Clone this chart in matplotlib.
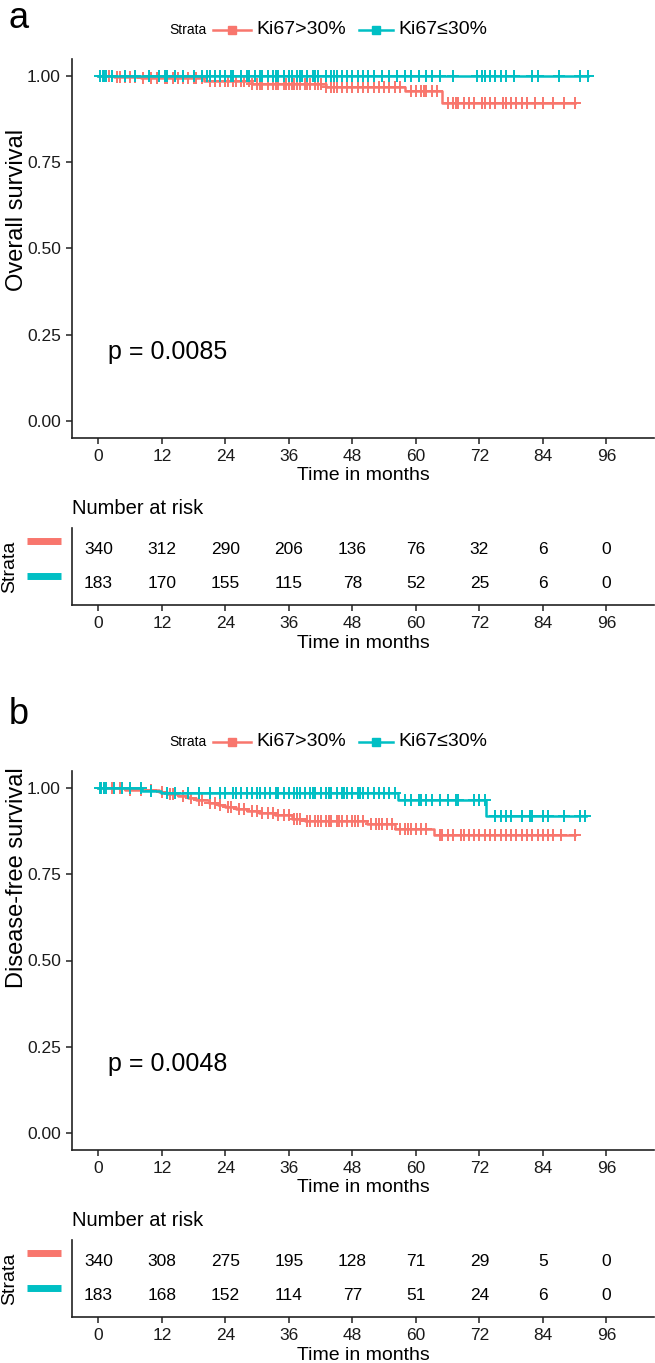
import numpy as np
import matplotlib
matplotlib.use('Agg')
import matplotlib.pyplot as plt
from matplotlib.lines import Line2D
import matplotlib.transforms as mtransforms

plt.rcParams['font.family'] = ['Liberation Sans', 'DejaVu Sans']

RED = '#F8766D'
TEAL = '#00BFC4'
W, H = 655, 1363

groups = ['Ki67>30%', 'Ki67\u226430%']
risk_times = [0, 12, 24, 36, 48, 60, 72, 84, 96]

# --- a: overall survival ---
os_hi_t = [0, 3, 8, 20, 29, 43, 58, 65]
os_hi_s = [1.0, 0.997, 0.994, 0.986, 0.977, 0.968, 0.958, 0.922]
os_hi_end = 90
os_hi_cens = [2, 3.5, 4, 5, 6, 7, 8.5, 10, 11, 12.5, 13, 14, 15, 16, 17, 18, 18.5, 19.5, 21,
              22, 23, 24, 24.5, 25.5, 26, 27, 27.5, 28.5, 29, 30, 30.5, 31, 32, 33, 33.5, 34,
              35, 35.5, 36, 36.5, 37, 37.5, 38, 39, 39.5, 40, 41, 41.5, 42, 43, 44, 44.5, 45,
              46, 47, 48, 49, 50, 51, 52, 53, 54, 55, 56, 57, 59, 60, 61, 61.5, 62, 63, 64,
              66, 67, 67.5, 68, 69, 70, 71, 72.5, 73, 74, 75, 76.5, 77, 78, 79, 80, 81, 82.5,
              84, 86, 88, 90]
os_lo_t = [0]
os_lo_s = [1.0]
os_lo_end = 92.5
os_lo_cens = [0.3, 0.8, 1, 1.5, 2.5, 5, 7, 9.5, 11.5, 12.5, 13, 14.5, 16, 18, 19.5, 20.5, 21,
              22, 23, 24, 25, 25.5, 27, 28, 28.5, 29.5, 30.5, 31, 32, 33, 33.5, 34, 35, 36,
              36.5, 37.5, 38, 38.5, 39.5, 40.5, 41, 41.5, 43, 44, 44.5, 45, 46, 47, 48, 49, 50,
              51, 52, 53.5, 55, 56.5, 58, 59, 60.5, 62, 63, 64.5, 67, 71.5, 72.5, 73, 74, 75,
              76, 77, 78.5, 82, 83, 87, 91, 92.5]
os_risk_hi = [340, 312, 290, 206, 136, 76, 32, 6, 0]
os_risk_lo = [183, 170, 155, 115, 78, 52, 25, 6, 0]
os_p = 'p = 0.0085'

# --- b: disease-free survival ---
dfs_hi_t = [0, 5, 11.4, 13, 15, 17, 18.5, 20.8, 22.5, 24, 26, 28, 30.3, 33.4, 36.5, 39,
            50.8, 56, 63.4]
dfs_hi_s = [1.0, 0.996, 0.99, 0.984, 0.978, 0.971, 0.965, 0.957, 0.951, 0.945, 0.94, 0.934,
            0.928, 0.921, 0.912, 0.904, 0.896, 0.883, 0.864]
dfs_hi_end = 90
dfs_hi_cens = [1, 2.5, 4, 6, 8, 10, 12, 13.5, 14, 16, 17.5, 19, 19.5, 21, 22, 23, 24.5, 25,
               26.5, 27.5, 29, 30, 31, 32, 33, 34, 35, 36, 37, 37.5, 38, 39.5, 40, 41, 41.5,
               42, 43, 43.5, 44, 45, 45.5, 46, 47, 48, 48.5, 49, 50, 51.5, 52.5, 53, 53.5,
               54.5, 55.5, 57, 58, 58.5, 59, 60, 61, 62, 64.5, 65, 66, 67, 68.5, 69, 70, 71,
               72, 73, 74, 75, 76, 77, 78, 79, 80, 81, 82, 83, 84, 85, 86, 87.5, 90]
dfs_lo_t = [0, 8.2, 11.8, 56.7, 73.2]
dfs_lo_s = [1.0, 0.993, 0.986, 0.967, 0.919]
dfs_lo_end = 92.2
dfs_lo_cens = [0.3, 0.5, 1, 1.5, 3, 4.5, 6, 8, 10, 13, 14.5, 17, 19, 21, 23, 24, 25.5, 26, 27,
               28, 29, 30, 30.5, 31.5, 32.5, 33.5, 34, 35, 36, 37, 37.5, 38, 39, 40, 40.5, 41,
               42, 43, 43.5, 44, 45, 46, 46.5, 47, 48, 49, 49.5, 50, 51, 52, 53, 54, 55, 56,
               58, 59, 60.5, 61, 62, 63, 64.5, 66, 67.5, 68, 71, 72, 73, 75, 76, 77, 78, 80,
               81.5, 82, 84, 85, 88, 91, 92]
dfs_risk_hi = [340, 308, 275, 195, 128, 71, 29, 5, 0]
dfs_risk_lo = [183, 168, 152, 114, 77, 51, 24, 6, 0]
dfs_p = 'p = 0.0048'


def px_box(left, top, right, bottom):
    return [left / W, 1 - bottom / H, (right - left) / W, (bottom - top) / H]


def fx(x):
    return x / W


def fy(y):
    return 1 - y / H


def km(ax, t, s, end, cens, color):
    t = np.asarray(t, float)
    s = np.asarray(s, float)
    ax.step(np.append(t, end), np.append(s, s[-1]), where='post', color=color, lw=1.8)
    c = np.asarray(cens, float)
    cy = s[np.searchsorted(t, c, side='right') - 1]
    ax.plot(c, cy, ls='none', marker='+', ms=8.5, mew=1.4, color=color)


def style(ax):
    for sp in ['top', 'right']:
        ax.spines[sp].set_visible(False)
    for sp in ['left', 'bottom']:
        ax.spines[sp].set_linewidth(1.2)
        ax.spines[sp].set_color('#222222')
    ax.tick_params(length=4, width=1.1, labelsize=12.5, pad=4, colors='#222222',
                   labelcolor='#1a1a1a')
    ax.set_xlim(-5, 105)
    ax.set_xticks(risk_times)


def panel(dy, letter, letter_y, ylabel, ylab_y, hi, lo, risk_hi, risk_lo, ptxt):
    fig.text(fx(9), fy(letter_y), letter, fontsize=26, va='baseline', ha='left')

    # legend row
    ly = fy(30 + dy)
    fig.text(fx(169), ly, 'Strata', fontsize=10, va='center', ha='left')
    for (x0, x1), col, lab in [((213, 251), RED, groups[0]), ((359, 393), TEAL, groups[1])]:
        fig.add_artist(Line2D([fx(x0), fx(x1)], [ly, ly], color=col, lw=1.8))
        fig.add_artist(Line2D([fx((x0 + x1) / 2)], [ly], color=col, marker='s', ms=6))
        fig.text(fx(x1 + 5), ly, lab, fontsize=14, va='center', ha='left')

    ax = fig.add_axes(px_box(72, 59 + dy, 654, 438 + dy))
    km(ax, *hi, RED)
    km(ax, *lo, TEAL)
    style(ax)
    ax.set_ylim(-0.05, 1.05)
    ax.set_yticks([0, 0.25, 0.5, 0.75, 1.0])
    ax.set_yticklabels(['0.00', '0.25', '0.50', '0.75', '1.00'])
    ax.text(1.8, 0.2, ptxt, fontsize=18, ha='left', va='center')
    ax.set_ylabel(ylabel, fontsize=17)
    ax.yaxis.set_label_coords(fx(17), fy(ylab_y + dy), transform=fig.transFigure)
    ax.yaxis.label.set_va('center')
    ax.set_xlabel('Time in months', fontsize=14)
    ax.xaxis.set_label_coords(fx(363), fy(475 + dy), transform=fig.transFigure)
    ax.xaxis.label.set_va('center')

    # risk table
    rt = fig.add_axes(px_box(72, 528 + dy, 654, 605 + dy))
    style(rt)
    rt.set_ylim(0.4, 2.6)
    rt.set_yticks([])
    for t, a, b in zip(risk_times, risk_hi, risk_lo):
        rt.text(t, 2, str(a), ha='center', va='center', fontsize=12.5)
        rt.text(t, 1, str(b), ha='center', va='center', fontsize=12.5)
    tr = mtransforms.blended_transform_factory(fig.transFigure, rt.transData)
    for row, col in [(2, RED), (1, TEAL)]:
        rt.add_artist(Line2D([fx(27), fx(61)], [row + 0.22, row + 0.22], color=col, lw=5,
                             transform=tr, clip_on=False, solid_capstyle='butt'))
    rt.text(0, fy(508 + dy), 'Number at risk', fontsize=14.5, ha='left', va='center',
            transform=mtransforms.blended_transform_factory(rt.transAxes, fig.transFigure))
    rt.set_ylabel('Strata', fontsize=14)
    rt.yaxis.set_label_coords(fx(10), fy(567 + dy), transform=fig.transFigure)
    rt.yaxis.label.set_va('center')
    rt.set_xlabel('Time in months', fontsize=14)
    rt.xaxis.set_label_coords(fx(363), fy(643 + dy), transform=fig.transFigure)
    rt.xaxis.label.set_va('center')


fig = plt.figure(figsize=(W / 100, H / 100), dpi=100, facecolor='white')

panel(0, 'a', 28, 'Overall survival', 210,
      (os_hi_t, os_hi_s, os_hi_end, os_hi_cens), (os_lo_t, os_lo_s, os_lo_end, os_lo_cens),
      os_risk_hi, os_risk_lo, os_p)
panel(712, 'b', 724, 'Disease-free survival', 166,
      (dfs_hi_t, dfs_hi_s, dfs_hi_end, dfs_hi_cens), (dfs_lo_t, dfs_lo_s, dfs_lo_end, dfs_lo_cens),
      dfs_risk_hi, dfs_risk_lo, dfs_p)

fig.savefig('out.png', dpi=100, facecolor='white')
